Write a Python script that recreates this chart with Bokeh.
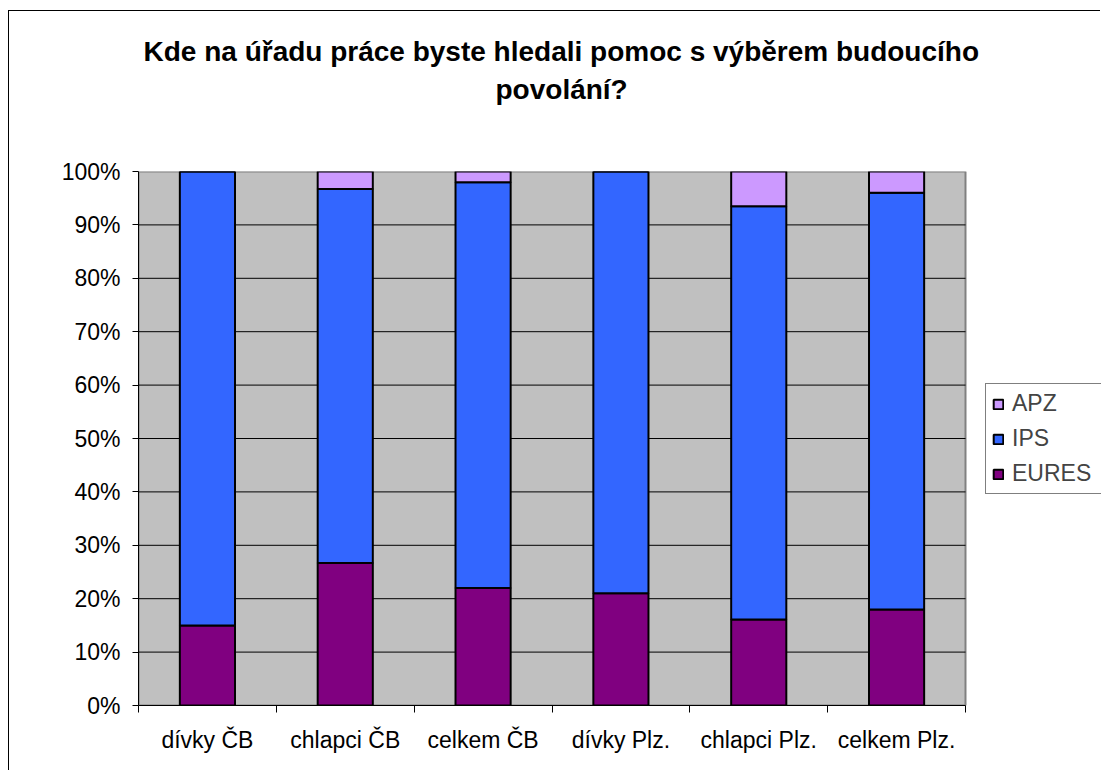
from bokeh.plotting import figure
from bokeh.models import (FixedTicker, NumeralTickFormatter, Legend, LegendItem,
                          Range1d, Title)
from bokeh.embed import file_html
from bokeh.resources import INLINE

categories = ["dívky ČB", "chlapci ČB", "celkem ČB", "dívky Plz.", "chlapci Plz.", "celkem Plz."]
eures = [15.0, 26.7, 22.0, 21.0, 16.1, 18.0]
ips = [85.0, 70.0, 76.0, 79.0, 77.4, 78.0]
apz = [0.0, 3.3, 2.0, 0.0, 6.5, 4.0]
series_names = ["EURES", "IPS", "APZ"]
colors = ["#800080", "#3366FF", "#CC99FF"]
y_ticks = [i / 10 for i in range(11)]
title_lines = ["Kde na úřadu práce byste hledali pomoc s výběrem budoucího", "povolání?"]

n = len(categories)
xs = [i + 1 for i in range(n)]
data = {
    "x": xs,
    "EURES": [v / 100 for v in eures],
    "IPS": [v / 100 for v in ips],
    "APZ": [v / 100 for v in apz],
}

FONT = "Liberation Sans"

# layout (pixels)
W, H = 1092, 760
BORDER_L, BORDER_T, BORDER_B = 129, 160, 66
AREA_PX = 827                      # width of the grey plot area
FRAME_PX = W - BORDER_L            # frame runs to the right canvas edge (legend lives there)
x_lo = 0.5
x_area_hi = n + 0.5
x_hi = x_lo + n * FRAME_PX / AREA_PX

p = figure(width=W, height=H, output_backend="svg", toolbar_location=None,
           x_range=Range1d(x_lo, x_hi), y_range=Range1d(0, 1),
           min_border_left=BORDER_L, min_border_right=0, min_border_top=BORDER_T,
           min_border_bottom=BORDER_B)
p.styles = {"margin-left": "8px", "margin-top": "10px",
            "border-left": "1px solid black", "border-top": "1px solid black"}

p.background_fill_color = "white"
p.border_fill_color = "white"
p.outline_line_color = None

# grey plot area with its border, and horizontal grid lines
p.quad(left=[x_lo], right=[x_area_hi], bottom=[0], top=[1],
       fill_color="#C0C0C0", line_color="#808080", line_width=2)
inner = y_ticks[1:-1]
p.segment(x0=[x_lo] * len(inner), x1=[x_area_hi] * len(inner), y0=inner, y1=inner,
          line_color="black", line_width=1)

renderers = p.vbar_stack(series_names, x="x", width=0.4, source=data, color=colors,
                         line_color="black", line_width=2)

# y axis
p.yaxis.ticker = FixedTicker(ticks=y_ticks)
p.yaxis.formatter = NumeralTickFormatter(format="0%")
p.yaxis.major_label_text_font = FONT
p.yaxis.major_label_text_font_size = "23px"
p.yaxis.major_label_text_color = "black"
p.yaxis.major_tick_out = 6
p.yaxis.major_tick_in = 0
p.yaxis.minor_tick_line_color = None
p.yaxis.major_label_standoff = 12
p.yaxis.axis_line_color = "black"
p.yaxis.major_tick_line_color = "black"

# x axis
p.xaxis.bounds = (x_lo, x_area_hi)
p.xaxis.ticker = FixedTicker(ticks=xs, minor_ticks=[i + 0.5 for i in range(n + 1)])
p.xaxis.major_label_overrides = {x: c for x, c in zip(xs, categories)}
p.xaxis.major_tick_line_color = None
p.xaxis.major_tick_out = 0
p.xaxis.major_tick_in = 0
p.xaxis.minor_tick_line_color = "black"
p.xaxis.minor_tick_out = 7
p.xaxis.minor_tick_in = 0
p.xaxis.major_label_text_font = FONT
p.xaxis.major_label_text_font_size = "23px"
p.xaxis.major_label_text_color = "black"
p.xaxis.major_label_standoff = 14
p.xaxis.axis_line_color = "black"

p.xgrid.grid_line_color = None
p.ygrid.grid_line_color = None

# title: spacer nearest the plot, then the two lines
tstyle = dict(align="left", text_font=FONT, text_font_size="28px",
              text_font_style="bold", text_color="black")
p.add_layout(Title(text=" ", text_font_size="1px", standoff=61), "above")
p.add_layout(Title(text=title_lines[1], offset=357, standoff=5, **tstyle), "above")
p.add_layout(Title(text=title_lines[0], offset=5, standoff=5, **tstyle), "above")

items = [LegendItem(label=name, renderers=[r]) for name, r in zip(series_names, renderers)]
items = items[::-1]
legend = Legend(items=items, location=(847, 211), orientation="vertical",
                label_text_font=FONT, label_text_font_size="23px",
                glyph_width=12, glyph_height=12, label_standoff=8, label_width=100,
                spacing=8, padding=6, margin=0,
                border_line_color="black", border_line_width=1,
                background_fill_color="white", background_fill_alpha=1)
p.add_layout(legend, "center")

open("out.html", "w").write(file_html(p, INLINE))
